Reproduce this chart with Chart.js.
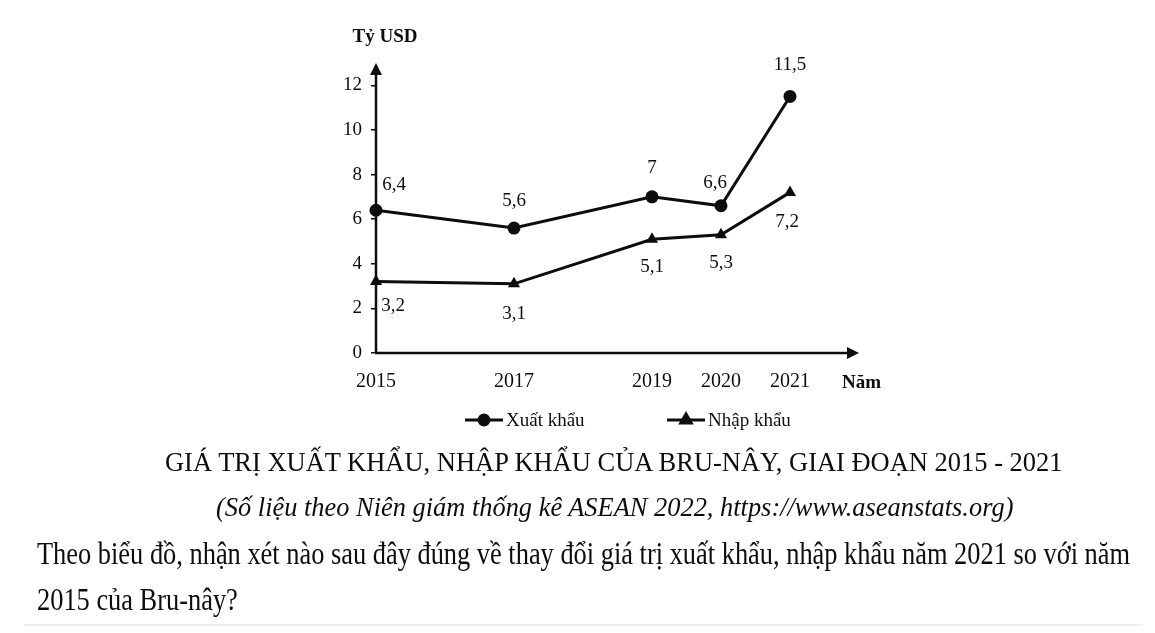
<!DOCTYPE html>
<html><head><meta charset="utf-8">
<script src="https://cdn.jsdelivr.net/npm/chart.js@4.4.1/dist/chart.umd.min.js"></script>
<style>
html,body{margin:0;padding:0;background:#fff;width:1155px;height:633px;overflow:hidden;}
#wrap{position:relative;width:1155px;height:633px;}
#c{position:absolute;left:0;top:0;}
.t{position:absolute;left:0;top:0;white-space:nowrap;font-family:'Liberation Serif','Times New Roman',serif;color:#0d0d0d;line-height:1;transform-origin:0 0;}
#rule{position:absolute;left:24px;top:624px;width:1119px;height:2px;background:#efefef;}
</style></head><body>
<div id="wrap">
<canvas id="c" width="1155" height="633"></canvas>
<div class="t" id="title" style="font-size:27px">GIÁ TRỊ XUẤT KHẨU, NHẬP KHẨU CỦA BRU-NÂY, GIAI ĐOẠN 2015 - 2021</div>
<div class="t" id="sub" style="font-size:27px;font-style:italic">(Số liệu theo Niên giám thống kê ASEAN 2022, https://www.aseanstats.org)</div>
<div class="t" id="q1" style="font-size:32px">Theo biểu đồ, nhận xét nào sau đây đúng về thay đổi giá trị xuất khẩu, nhập khẩu năm 2021 so với năm</div>
<div class="t" id="q2" style="font-size:32px">2015 của Bru-nây?</div>
<div id="rule"></div>
</div>
<script>
// ---- data ----
const years = [2015, 2017, 2019, 2020, 2021];
const exportValues = [6.4, 5.6, 7, 6.6, 11.5];
const importValues = [3.2, 3.1, 5.1, 5.3, 7.2];
const yTickValues = [0, 2, 4, 6, 8, 10, 12];
const seriesNames = ['Xuất khẩu', 'Nhập khẩu'];
const yAxisTitle = 'Tỷ USD';
const xAxisTitle = 'Năm';

// label offsets (style only, pixels relative to each point)
const exportLabelOffsets = [[18,-25],[0,-27],[0,-29],[-6,-23],[0,-31]];
const importLabelOffsets = [[17,24],[0,30],[0,28],[0,28],[-3,30]];

const FONT = "'Liberation Serif','Times New Roman',serif";
const INK = '#0d0d0d';

function fmt(v){ return String(v).replace('.', ','); }

const annot = {
  id: 'annot',
  afterDraw(chart) {
    const ctx = chart.ctx;
    const xs = chart.scales.x, ys = chart.scales.y;
    const x0 = xs.getPixelForValue(xs.min), y0 = ys.getPixelForValue(0);
    const xEnd = xs.getPixelForValue(xs.max), yTop = ys.getPixelForValue(ys.max);
    ctx.save();
    ctx.strokeStyle = INK; ctx.fillStyle = INK; ctx.lineWidth = 2.5;
    // axes
    ctx.beginPath(); ctx.moveTo(x0, y0); ctx.lineTo(x0, yTop + 10); ctx.stroke();
    ctx.beginPath(); ctx.moveTo(x0 - 1, y0); ctx.lineTo(xEnd - 10, y0); ctx.stroke();
    // arrows
    ctx.beginPath(); ctx.moveTo(x0, yTop); ctx.lineTo(x0 - 6, yTop + 12); ctx.lineTo(x0 + 6, yTop + 12); ctx.closePath(); ctx.fill();
    ctx.beginPath(); ctx.moveTo(xEnd, y0); ctx.lineTo(xEnd - 12, y0 - 6); ctx.lineTo(xEnd - 12, y0 + 6); ctx.closePath(); ctx.fill();
    // axis titles
    ctx.font = 'bold 19px ' + FONT; ctx.textBaseline = 'alphabetic';
    ctx.textAlign = 'center';
    ctx.fillText(yAxisTitle, x0 + 9, 42);
    ctx.textAlign = 'left';
    ctx.fillText(xAxisTitle, 842, 388);
    // data labels
    ctx.font = '19px ' + FONT; ctx.textAlign = 'center'; ctx.textBaseline = 'middle';
    [[0, exportValues, exportLabelOffsets],[1, importValues, importLabelOffsets]].forEach(([di, vals, offs]) => {
      const meta = chart.getDatasetMeta(di);
      meta.data.forEach((pt, i) => {
        ctx.fillText(fmt(vals[i]), pt.x + offs[i][0], pt.y + offs[i][1]);
      });
    });
    // legend
    const legend = [[465, 0], [667, 1]];
    legend.forEach(([lx, di]) => {
      const ds = chart.data.datasets[di];
      const ly = 420;
      ctx.lineWidth = 3;
      ctx.beginPath(); ctx.moveTo(lx, ly); ctx.lineTo(lx + 38, ly); ctx.stroke();
      Chart.helpers.drawPoint(ctx, {pointStyle: ds.pointStyle, radius: ds.pointStyle === 'circle' ? 5 : 6, rotation: 0, borderWidth: 1}, lx + 19, ly);
      ctx.fill();
      ctx.font = '19px ' + FONT; ctx.textAlign = 'left'; ctx.textBaseline = 'middle';
      ctx.fillText(ds.label, lx + 41, ly + 1);
    });
    ctx.restore();
  }
};

new Chart(document.getElementById('c'), {
  type: 'line',
  data: {
    datasets: [
      { label: seriesNames[0], data: years.map((y, i) => ({x: y, y: exportValues[i]})),
        borderColor: INK, backgroundColor: INK, borderWidth: 3, pointStyle: 'circle', pointRadius: 6.5,
        pointBorderWidth: 0, pointBackgroundColor: INK, tension: 0, clip: false },
      { label: seriesNames[1], data: years.map((y, i) => ({x: y, y: importValues[i]})),
        borderColor: INK, backgroundColor: INK, borderWidth: 3, pointStyle: 'triangle', pointRadius: 7,
        pointBorderWidth: 0, pointBackgroundColor: INK, tension: 0, clip: false }
    ]
  },
  options: {
    responsive: false, animation: false, devicePixelRatio: 1,
    layout: { padding: { left: 336, right: 296, top: 63, bottom: 240 } },
    plugins: { legend: { display: false }, tooltip: { enabled: false } },
    scales: {
      x: {
        type: 'linear', min: 2015, max: 2022,
        afterBuildTicks: s => { s.ticks = years.map(v => ({value: v})); },
        afterFit: s => { s.height = 40; },
        grid: { display: false, drawTicks: false },
        border: { display: false },
        ticks: { padding: 17, color: INK, font: { family: FONT, size: 20 }, callback: v => String(v) }
      },
      y: {
        min: 0, max: 13,
        afterBuildTicks: s => { s.ticks = yTickValues.map(v => ({value: v})); },
        afterFit: s => { s.width = 40; },
        grid: { display: true, drawOnChartArea: false, drawTicks: true, tickLength: 5, color: INK, lineWidth: 1.5 },
        border: { display: false },
        ticks: { padding: 9, color: INK, font: { family: FONT, size: 19 } }
      }
    }
  },
  plugins: [annot]
});

// fit HTML text lines to measured widths
function place(id, left, baseline, width, scaleOverride) {
  const el = document.getElementById(id);
  const fs = parseFloat(el.style.fontSize);
  const s = scaleOverride || (width / el.offsetWidth);
  el.style.left = left + 'px';
  el.style.top = (baseline - 0.8375 * fs) + 'px';
  el.style.transform = 'scaleX(' + s + ')';
  return s;
}
place('title', 165, 472, 898);
place('sub', 216, 517, 797);
const qs = place('q1', 37, 564, 1093);
place('q2', 37, 610, 0, qs);
</script>
</body></html>
